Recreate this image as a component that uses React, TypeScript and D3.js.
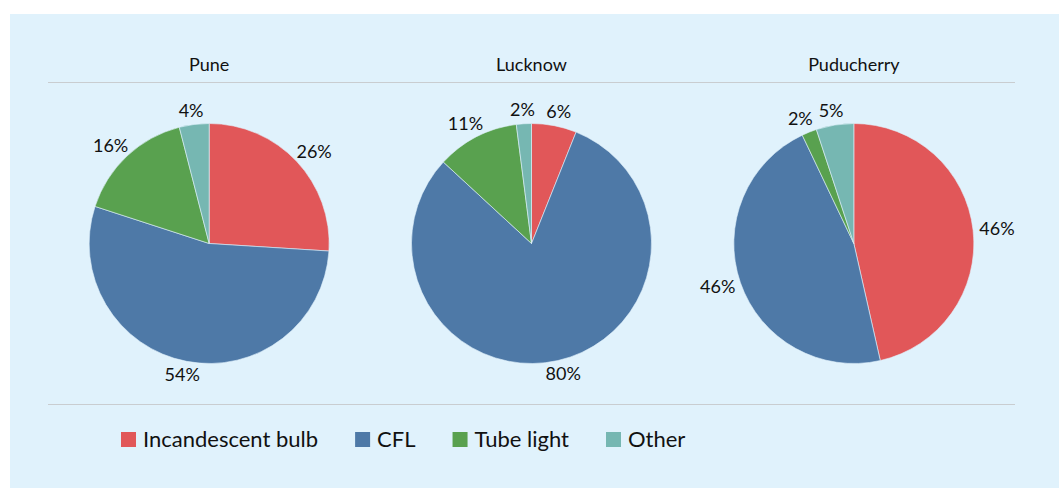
import React, { useEffect, useRef } from 'react';
import * as d3 from 'd3';

const cities = ['Pune', 'Lucknow', 'Puducherry'];
const categories = ['Incandescent bulb', 'CFL', 'Tube light', 'Other'];
const colors = ['#E15759', '#4E79A7', '#59A14F', '#76B7B2'];

// share of each lighting type, in category order
const pune = [26, 54, 16, 4];
const lucknow = [6, 80, 11, 2];
const puducherry = [46, 46, 2, 5];
const shares = [pune, lucknow, puducherry];

const W = 1059;
const H = 488;
const FONT = 'Lato, "Open Sans", sans-serif';

const App: React.FC = () => {
  const ref = useRef<SVGSVGElement>(null);

  useEffect(() => {
    if (!ref.current) return;
    const svg = d3.select(ref.current);
    svg.selectAll('*').remove();

    svg
      .append('rect')
      .attr('x', 10)
      .attr('y', 14)
      .attr('width', W - 10)
      .attr('height', H - 14)
      .attr('fill', '#E0F2FC');

    const x = d3.scaleBand<string>().domain(cities).range([48, 1015]);
    const r = 120;
    const cy = 243.5;

    // separator lines
    [82.5, 404.5].forEach((y) => {
      svg
        .append('line')
        .attr('x1', 48)
        .attr('x2', 1015)
        .attr('y1', y)
        .attr('y2', y)
        .attr('stroke', '#C9CDD0')
        .attr('stroke-width', 1.2);
    });

    const pie = d3
      .pie<number>()
      .sort(null)
      .value((d) => d);
    const arc = d3.arc<d3.PieArcDatum<number>>().innerRadius(0).outerRadius(r);

    cities.forEach((city, ci) => {
      const cx = x(city)! + x.bandwidth() / 2;

      svg
        .append('text')
        .attr('x', cx)
        .attr('y', 71)
        .attr('text-anchor', 'middle')
        .attr('font-family', FONT)
        .attr('font-size', 18)
        .attr('font-weight', 400)
        .attr('fill', '#111')
        .text(city);

      const g = svg.append('g').attr('transform', `translate(${cx},${cy})`);
      const arcs = pie(shares[ci]);

      g.selectAll('path')
        .data(arcs)
        .enter()
        .append('path')
        .attr('d', arc)
        .attr('fill', (_, i) => colors[i])
        .attr('stroke', '#E0F2FC')
        .attr('stroke-width', 0.6);

      g.selectAll('text.lbl')
        .data(arcs)
        .enter()
        .append('text')
        .attr('class', 'lbl')
        .attr('font-family', FONT)
        .attr('font-size', 18)
        .attr('fill', '#111')
        .attr('text-anchor', 'middle')
        .each(function (d) {
          const a = (d.startAngle + d.endAngle) / 2;
          const s = Math.sin(a);
          const c = -Math.cos(a);
          const tw = 38;
          const th = 18;
          const px = s * (r + 5) + (s * tw) / 2;
          const py = c * (r + 5) + (c * th) / 2;
          d3.select(this)
            .attr('x', px)
            .attr('y', py + 6)
            .text(`${d.data}%`);
        });
    });

    // legend
    const leg = svg.append('g');
    let lx = 121;
    categories.forEach((cat, i) => {
      leg
        .append('rect')
        .attr('x', lx)
        .attr('y', 432)
        .attr('width', 15)
        .attr('height', 15)
        .attr('fill', colors[i]);
      const t = leg
        .append('text')
        .attr('x', lx + 22)
        .attr('y', 447)
        .attr('font-family', FONT)
        .attr('font-size', 22)
        .attr('fill', '#111')
        .text(cat);
      const w = (t.node() as SVGTextElement).getComputedTextLength();
      lx += 22 + w + 37;
    });
  }, []);

  return (
    <div style={{ position: 'absolute', left: 0, top: 0 }}>
      <svg ref={ref} width={W} height={H} style={{ display: 'block' }} />
    </div>
  );
};

export default App;
